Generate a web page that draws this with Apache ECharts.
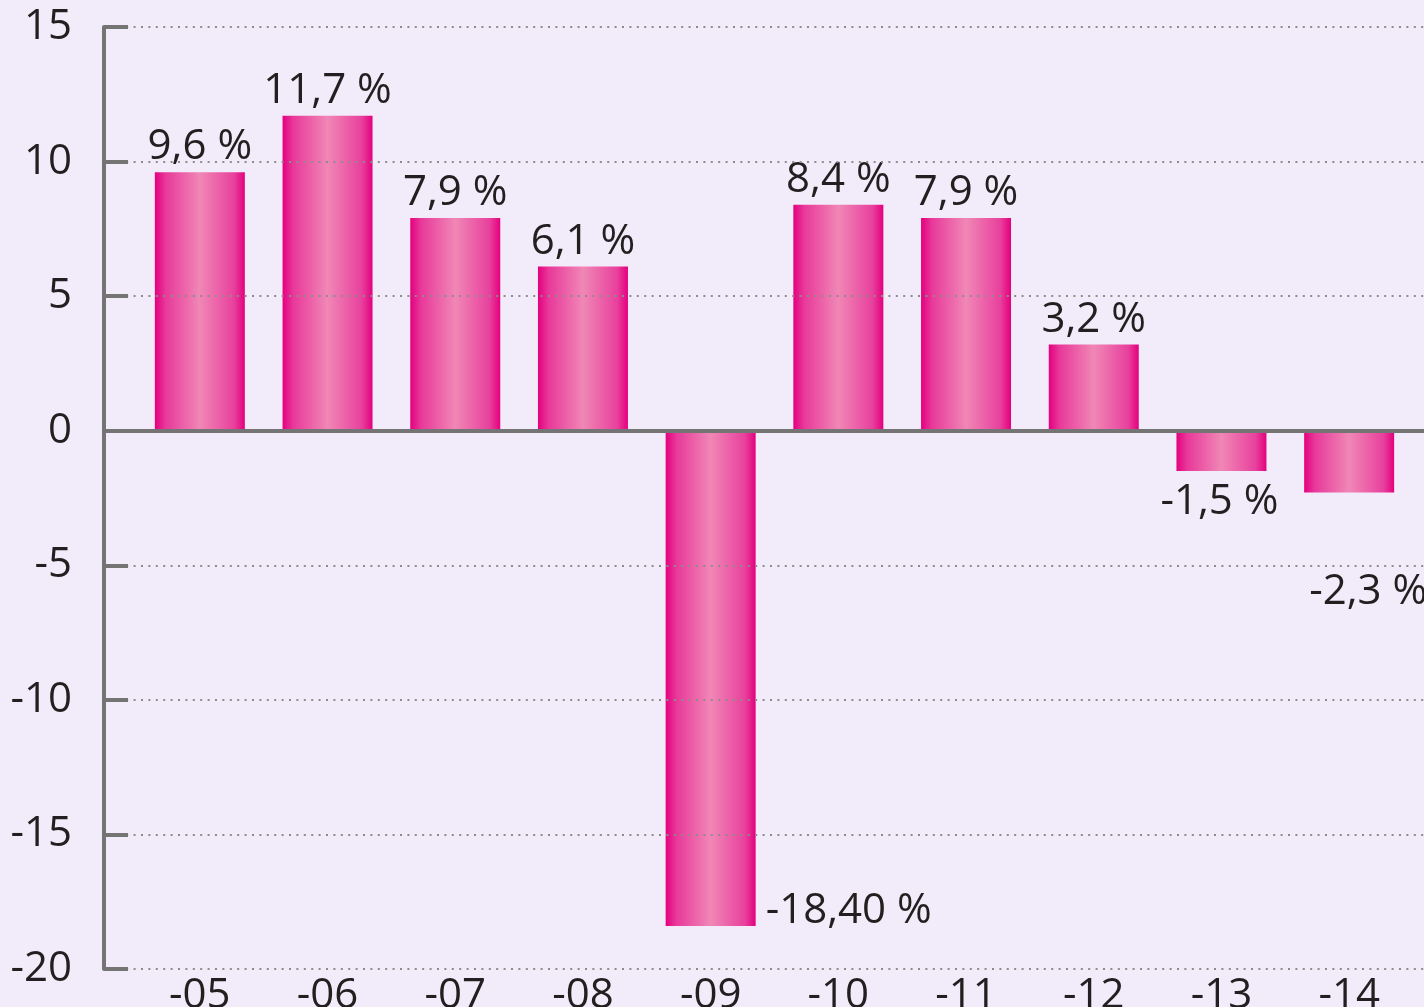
<!DOCTYPE html>
<html>
<head>
<meta charset="utf-8">
<script src="https://cdn.jsdelivr.net/npm/echarts@6/dist/echarts.min.js"></script>
<style>
    html, body {margin: 0; padding: 0; background: #F2ECFA;}
    #chart {width: 1424px; height: 1007px;}
</style>
</head>
<body>
<div id="chart"></div>
<script>
    // years (short form) and growth in %
    var categories = ['-05', '-06', '-07', '-08', '-09', '-10', '-11', '-12', '-13', '-14'];
    var growth = [9.6, 11.7, 7.9, 6.1, -18.4, 8.4, 7.9, 3.2, -1.5, -2.3];
    var valueLabels = ['9,6 %', '11,7 %', '7,9 %', '6,1 %', '-18,40 %', '8,4 %', '7,9 %', '3,2 %', '-1,5 %', '-2,3 %'];
    var yMin = -20, yMax = 15, yStep = 5;

    var FONT = '"Open Sans", "Noto Sans", sans-serif';
    var TXT = '#231F20';
    var AXIS = '#747474';

    // where each value label sits
    var labelPlace = {
        4: {position: ['100%', '100%'], align: 'left', verticalAlign: 'bottom', offset: [10, 6]},
        8: {position: 'bottom', offset: [-2, 6]},
        9: {position: 'bottom', offset: [19, 74]}
    };

    var barColor = {
        type: 'linear', x: 0, y: 0, x2: 1, y2: 0,
        colorStops: [
            {offset: 0, color: '#E4007F'},
            {offset: 0.12, color: '#E8399A'},
            {offset: 0.5, color: '#F087B6'},
            {offset: 0.88, color: '#E8419D'},
            {offset: 1, color: '#E4007F'}
        ]
    };

    var chart = echarts.init(document.getElementById('chart'));
    chart.setOption({
        backgroundColor: '#F2ECFA',
        textStyle: {fontFamily: FONT},
        grid: [
            {left: 136, right: 11, top: 27, bottom: 38, outerBoundsMode: 'none'},   // bars
            {left: 104, right: 0, top: 27, bottom: 38, outerBoundsMode: 'none'}     // axes frame
        ],
        xAxis: [
            {
                type: 'category',
                gridIndex: 0,
                data: categories,
                axisLine: {show: false, onZero: false},
                axisTick: {show: false},
                axisLabel: {color: TXT, fontSize: 42, fontFamily: FONT, margin: 6}
            },
            {
                type: 'value',
                gridIndex: 1,
                min: 0,
                max: 1,
                z: 5,
                axisLine: {show: true, onZero: true, lineStyle: {color: AXIS, width: 4}},
                axisTick: {show: false},
                axisLabel: {show: false},
                splitLine: {show: false}
            }
        ],
        yAxis: [
            {
                type: 'value',
                gridIndex: 0,
                min: yMin, max: yMax, interval: yStep,
                show: false
            },
            {
                type: 'value',
                gridIndex: 1,
                min: yMin, max: yMax, interval: yStep,
                z: 4,
                axisLine: {show: true, lineStyle: {color: AXIS, width: 4}},
                axisTick: {show: true, inside: true, length: 24, lineStyle: {color: AXIS, width: 4}},
                axisLabel: {color: TXT, fontSize: 42, fontFamily: FONT, margin: 32},
                splitLine: {show: true, lineStyle: {color: '#8C8C8C', width: 2, type: [2, 5.4]}}
            }
        ],
        series: [{
            type: 'bar',
            xAxisIndex: 0,
            yAxisIndex: 0,
            barWidth: 90,
            itemStyle: {color: barColor},
            label: {
                show: true,
                position: 'top',
                distance: 4,
                color: TXT,
                fontSize: 42,
                fontFamily: FONT,
                formatter: function (p) {
                    return valueLabels[p.dataIndex];
                }
            },
            data: growth.map(function (v, i) {
                var d = {value: v};
                if (labelPlace[i]) d.label = labelPlace[i];
                return d;
            })
        }]
    });
</script>
</body>
</html>
